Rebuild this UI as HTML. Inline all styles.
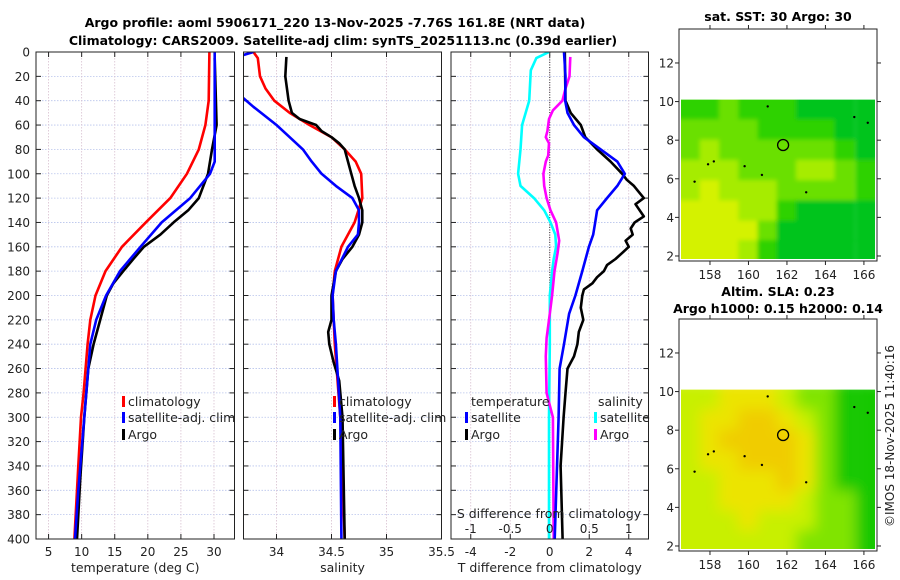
<!DOCTYPE html>
<html><head><meta charset="utf-8"><style>
html,body{margin:0;padding:0;background:#fff;}
svg{display:block;font-family:"DejaVu Sans","Liberation Sans",sans-serif;}
</style></head><body>
<svg id="fig" width="900" height="580" viewBox="0 0 900 580" xmlns="http://www.w3.org/2000/svg">
<defs>
<filter id="blur" x="0" y="0" width="1" height="1"><feGaussianBlur stdDeviation="7"/></filter>
<filter id="blur2" x="0" y="0" width="1" height="1"><feGaussianBlur stdDeviation="2"/></filter>
</defs>
<text x="335" y="27" text-anchor="middle" font-size="12.5" font-weight="bold">Argo profile: aoml 5906171_220 13-Nov-2025 -7.76S 161.8E (NRT data)</text>
<text x="343" y="45" text-anchor="middle" font-size="12.5" font-weight="bold">Climatology: CARS2009. Satellite-adj clim: synTS_20251113.nc (0.39d earlier)</text>
<text x="778" y="21" text-anchor="middle" font-size="12.5" font-weight="bold">sat. SST: 30 Argo: 30</text>
<text x="778" y="296" text-anchor="middle" font-size="12.5" font-weight="bold">Altim. SLA: 0.23</text>
<text x="778" y="313" text-anchor="middle" font-size="12.5" font-weight="bold">Argo h1000: 0.15 h2000: 0.14</text>
<text transform="translate(894,436) rotate(-90)" text-anchor="middle" font-size="12" fill="#222">©IMOS 18-Nov-2025 11:40:16</text>
</svg>
<script>
// ---------- profile data ----------
const depthT = [0,40,60,80,100,120,140,160,180,200,220,240,280,300,340,400];
const tempClim = [29.3,29.2,28.7,27.7,25.9,23.4,19.7,16.1,13.6,12.1,11.3,10.9,10.3,9.9,9.5,8.9];
const depthTsat = [0,90,100,120,140,160,180,200,220,240,280,320,360,400];
const tempSat = [30.1,30.1,29.4,26.4,22.1,18.9,15.8,13.7,12.2,11.3,10.7,10.1,9.5,9.0];
const depthArgo = [5,60,80,100,120,130,140,150,160,170,180,190,200,220,240,260,300,350,400];
const tempArgo = [30.1,30.4,29.7,29.1,27.7,26.1,23.9,21.9,19.4,17.8,16.3,14.8,13.8,12.8,11.8,11.0,10.4,9.8,9.3];

const depthSclim = [0,5,20,30,40,50,60,70,80,90,100,120,140,160,180,200,240,300,400];
const salClim = [33.79,33.83,33.85,33.90,33.98,34.12,34.30,34.50,34.62,34.72,34.77,34.78,34.71,34.59,34.53,34.51,34.53,34.58,34.62];
const depthSsat = [0,3,35,38,45,60,70,80,90,100,110,120,130,140,150,160,180,200,220,240,300,400];
const salSat = [33.79,33.68,33.66,33.70,33.79,34.0,34.12,34.24,34.32,34.41,34.54,34.69,34.75,34.75,34.74,34.65,34.54,34.51,34.52,34.54,34.58,34.59];
const depthSargo = [4,20,40,50,55,60,65,70,75,80,90,100,110,120,130,140,150,160,170,180,190,200,220,230,240,255,270,300,400];
const salArgo = [34.09,34.08,34.11,34.14,34.21,34.36,34.41,34.50,34.57,34.62,34.65,34.68,34.71,34.75,34.78,34.78,34.75,34.69,34.60,34.54,34.52,34.50,34.50,34.47,34.48,34.52,34.57,34.60,34.62];

const depthDS = [0,5,15,40,60,80,100,110,120,130,140,150,160,170,180,200,240,300,400];
const sDiffSat = [-0.01,-0.17,-0.24,-0.26,-0.35,-0.37,-0.40,-0.37,-0.20,-0.07,0.01,0.07,0.08,0.05,0.03,0.0,0.0,-0.01,-0.01];
const depthDSargo = [4,20,30,40,48,55,65,70,75,85,90,100,110,120,130,140,155,165,180,200,220,235,250,280,300,400];
const sDiffArgo = [0.26,0.25,0.20,0.16,0.04,-0.01,-0.03,-0.05,-0.01,-0.02,-0.05,-0.08,-0.07,-0.04,0.01,0.08,0.12,0.10,0.06,0.03,-0.01,-0.04,-0.05,-0.04,0.04,0.05];
const depthDT = [0,20,40,50,60,70,80,90,100,110,120,130,140,150,160,180,200,215,240,260,300,400];
const tDiffSat = [0.72,0.8,0.78,0.9,1.23,1.73,2.58,3.42,3.8,3.42,2.9,2.4,2.3,2.2,1.98,1.65,1.3,0.98,0.72,0.5,0.45,0.25];
const depthDTargo = [0,40,50,60,70,80,90,100,105,110,120,125,135,140,145,150,155,160,165,170,175,180,185,190,195,200,210,220,230,240,250,260,280,300,340,400];
const tDiffArgo = [0.76,0.8,1.06,1.57,1.8,2.4,3.08,3.67,3.9,4.26,4.76,4.34,4.76,4.3,4.1,4.2,3.84,4.0,3.67,3.33,2.9,2.74,2.4,2.16,1.73,1.65,1.57,1.7,1.47,1.4,1.23,0.9,0.8,0.7,0.55,0.65];

const depthTicks = [0,20,40,60,80,100,120,140,160,180,200,220,240,260,280,300,320,340,360,380,400];
const tempTicks = [5,10,15,20,25,30];
const salTicks = [34,34.5,35,35.5];
const tdTicks = [-4,-2,0,2,4];
const sdTicks = [-1,-0.5,0,0.5,1];

// ---------- map data ----------
const mapLon = [157.0,158.0,159.0,160.0,161.0,162.0,163.0,164.0,165.0,166.1];
const mapLat = [9.6,8.55,7.5,6.45,5.4,4.35,3.3,2.3];
const sstGrid = [
 [1,1,2,1,1,1,0,0,0,0],
 [2,2,2,2,1,1,1,1,0,0],
 [2,3,2,2,2,2,2,2,1,0],
 [3,3,3,2,2,2,3,3,2,1],
 [3,4,3,3,3,2,2,2,2,1],
 [4,4,4,3,3,1,0,0,0,0],
 [4,4,4,4,2,0,0,0,0,0],
 [4,4,4,3,1,0,0,0,0,0]];
const slaGrid = [
 [2,2,3,3,3,2,1,1,0,0],
 [2,3,3,4,4,3,2,1,0,0],
 [2,3,4,4,4,4,3,1,0,0],
 [2,3,3,4,4,4,3,1,0,0],
 [2,2,3,3,3,4,3,1,0,0],
 [2,2,3,3,3,3,2,1,1,0],
 [2,2,2,3,2,2,2,1,1,0],
 [2,2,2,2,2,2,1,1,1,0]];
const sstColors = ['#00c41c','#2ed200','#6ae000','#a6ec00','#d4f200'];
const slaColors = ['#14c800','#80e400','#c8f000','#ece400','#f0cc00'];
const lonTicks = [158,160,162,164,166];
const latTicks = [2,4,6,8,10,12];
const floatLon = 161.8, floatLat = 7.75;

// ---------- helpers ----------
const NS = 'http://www.w3.org/2000/svg';
const svg = document.getElementById('fig');
function el(tag, parent){ const e = document.createElementNS(NS, tag); (parent||svg).appendChild(e); return e; }
function set(e, k, v){ e.setAttribute(k, v); return e; }

const Y0 = 52, Y1 = 539;
function yD(d){ return Y0 + (Y1 - Y0) * d / 400; }
function mkX(px0, px1, v0, v1){ return v => px0 + (v - v0) * (px1 - px0) / (v1 - v0); }

const panels = [
 {name:'temperature', x0:36, x1:234.5, x:mkX(36,234.5,3.1,33.1), ticks:tempTicks, label:'temperature (deg C)', yl:true},
 {name:'salinity', x0:243.5, x1:441.5, x:mkX(243.5,441.5,33.7,35.5), ticks:salTicks, label:'salinity'},
 {name:'difference', x0:451, x1:648.5, x:mkX(451,648.5,-5,5), ticks:tdTicks, label:'T difference from climatology'}
];

panels.forEach((p, i) => {
  const g = el('g');
  
  
  const cp = el('clipPath', g); set(cp, 'id', 'clip' + i);
  const cr = el('rect', cp); set(cr,'x',p.x0); set(cr,'y',Y0); set(cr,'width',p.x1-p.x0); set(cr,'height',Y1-Y0);
  depthTicks.forEach(d => {
    const l = el('line', g);
    
    
    set(l,'x1',p.x0); set(l,'x2',p.x1); set(l,'y1',yD(d)); set(l,'y2',yD(d));
    set(l,'stroke','#b8c4ec'); set(l,'stroke-width','0.8'); set(l,'stroke-dasharray','1.5,1.5');
    [p.x0, p.x1].forEach((xx, k) => {
      const t = el('line', g);
      
      
      set(t,'x1',xx); set(t,'x2', k ? xx-5 : xx+5); set(t,'y1',yD(d)); set(t,'y2',yD(d)); set(t,'stroke','#222');
    });
    if (p.yl) {
      const tx = el('text', g);
      
      
      set(tx,'x',30); set(tx,'y',yD(d)+4.5); set(tx,'text-anchor','end'); set(tx,'font-size','12'); set(tx,'fill','#222');
      tx.textContent = d;
    }
  });
  p.ticks.forEach(v => {
    const xx = p.x(v);
    const l = el('line', g);
    
    
    set(l,'x1',xx); set(l,'x2',xx); set(l,'y1',Y0); set(l,'y2',Y1);
    set(l,'stroke','#d8c0d0'); set(l,'stroke-width','0.8'); set(l,'stroke-dasharray','1.5,1.5');
    [Y0, Y1].forEach((yy, k) => {
      const t = el('line', g);
      
      
      set(t,'x1',xx); set(t,'x2',xx); set(t,'y1',yy); set(t,'y2', k ? yy-5 : yy+5); set(t,'stroke','#222');
    });
    const tx = el('text', g);
    
    
    set(tx,'x',xx); set(tx,'y',556); set(tx,'text-anchor','middle'); set(tx,'font-size','12'); set(tx,'fill','#222');
    tx.textContent = v;
  });
  const at = el('text', g);
  
  
  set(at,'x',(p.x0+p.x1)/2); set(at,'y',572); set(at,'text-anchor','middle'); set(at,'font-size','12.5'); set(at,'fill','#222');
  at.textContent = p.label;
  p.g = g;
});

const zl = el('line');


set(zl,'x1',panels[2].x(0)); set(zl,'x2',panels[2].x(0)); set(zl,'y1',Y0); set(zl,'y2',Y1);
set(zl,'stroke','#333'); set(zl,'stroke-dasharray','1,1.5');

function drawLine(pi, xs, ds, color, name, scale){
  const p = panels[pi];
  const pts = xs.map((v, i) => p.x(v * (scale||1)).toFixed(1) + ',' + yD(ds[i]).toFixed(1)).join(' ');
  const pl = el('polyline');
  
  
  set(pl,'points',pts); set(pl,'fill','none'); set(pl,'stroke',color); set(pl,'stroke-width','2.6');
  set(pl,'stroke-linejoin','round'); set(pl,'clip-path','url(#clip' + pi + ')');
}
drawLine(0, tempClim, depthT, '#ff0000', 'temp-climatology-line');
drawLine(0, tempArgo, depthArgo, '#000000', 'temp-argo-line');
drawLine(0, tempSat, depthTsat, '#0000ff', 'temp-satellite-line');
drawLine(1, salClim, depthSclim, '#ff0000', 'sal-climatology-line');
drawLine(1, salArgo, depthSargo, '#000000', 'sal-argo-line');
drawLine(1, salSat, depthSsat, '#0000ff', 'sal-satellite-line');
drawLine(2, sDiffSat, depthDS, '#00ffff', 'sdiff-satellite-line', 4);
drawLine(2, sDiffArgo, depthDSargo, '#ff00ff', 'sdiff-argo-line', 4);
drawLine(2, tDiffArgo, depthDTargo, '#000000', 'tdiff-argo-line');
drawLine(2, tDiffSat, depthDT, '#0000ff', 'tdiff-satellite-line');

panels.forEach(p => {
  const r = el('rect');
  
  
  set(r,'x',p.x0); set(r,'y',Y0); set(r,'width',p.x1-p.x0); set(r,'height',Y1-Y0); set(r,'fill','none'); set(r,'stroke','#222');
});

sdTicks.forEach(v => {
  const tx = el('text');
  
  
  set(tx,'x',panels[2].x(v*4)); set(tx,'y',533); set(tx,'text-anchor','middle'); set(tx,'font-size','12'); set(tx,'fill','#222');
  tx.textContent = v;
});
const sdt = el('text');


set(sdt,'x',549); set(sdt,'y',518); set(sdt,'text-anchor','middle'); set(sdt,'font-size','12.5'); set(sdt,'fill','#222');
sdt.textContent = 'S difference from climatology';

function legend(x, y, color, label, name){
  const b = el('rect');
  
  
  set(b,'x',x); set(b,'y',y-10); set(b,'width',3); set(b,'height',11); set(b,'fill',color);
  const t = el('text');
  
  
  set(t,'x',x+6); set(t,'y',y); set(t,'font-size','12.5'); set(t,'fill','#222');
  t.textContent = label;
}
[[122,'t'],[333,'s']].forEach(([lx,n]) => {
  legend(lx, 406, '#ff0000', 'climatology', n + '-climatology');
  legend(lx, 422, '#0000ff', 'satellite-adj. clim', n + '-satellite');
  legend(lx, 439, '#000000', 'Argo', n + '-argo');
});
const lt1 = el('text');


set(lt1,'x',471); set(lt1,'y',406); set(lt1,'font-size','12.5'); set(lt1,'fill','#222'); lt1.textContent = 'temperature';
const lt2 = el('text');


set(lt2,'x',598); set(lt2,'y',406); set(lt2,'font-size','12.5'); set(lt2,'fill','#222'); lt2.textContent = 'salinity';
legend(465, 422, '#0000ff', 'satellite', 'tdiff-satellite');
legend(465, 439, '#000000', 'Argo', 'tdiff-argo');
legend(594, 422, '#00ffff', 'satellite', 'sdiff-satellite');
legend(594, 439, '#ff00ff', 'Argo', 'sdiff-argo');

function drawMap(top, grid, colors, name, filt){
  const g = el('g');
  
  
  const L0 = 679, L1 = 877, T0 = top, T1 = top + 232;
  const lx = mkX(L0, L1, 156.39, 166.68);
  const ly = v => T1 - (v - 1.74) * (T1 - T0) / (13.76 - 1.74);
  const cid = 'mc' + top;
  const cp = el('clipPath', g); set(cp,'id',cid);
  const cr = el('rect', cp); set(cr,'x',L0+2); set(cr,'y',ly(10.1)); set(cr,'width',L1-L0-4); set(cr,'height',T1-2-ly(10.1));
  const cells = el('g', g); set(cells,'clip-path','url(#' + cid + ')');
  const inner = el('g', cells); set(inner,'filter','url(#' + filt + ')');
  const dLon = 1.06, dLat = 1.06;
  grid.forEach((row, r) => row.forEach((v, c) => {
    const rc = el('rect', inner);
    
    
    const x0 = lx(mapLon[c] - dLon/2 - (c===0?1:0)), x1 = lx(mapLon[c] + dLon/2 + (c===row.length-1?1:0));
    const y0 = ly(mapLat[r] + dLat/2 + (r===0?0.5:0)), y1 = ly(mapLat[r] - dLat/2 - (r===grid.length-1?1:0));
    set(rc,'x',x0.toFixed(1)); set(rc,'y',y0.toFixed(1)); set(rc,'width',(x1-x0+0.5).toFixed(1)); set(rc,'height',(y1-y0+0.5).toFixed(1));
    set(rc,'fill',colors[v]);
  }));
  [[158.2,6.9],[157.9,6.75],[159.8,6.65],[160.7,6.2],[157.2,5.85],[163,5.3],[161,9.75],[165.5,9.2],[166.2,8.9]].forEach(([a,b]) => {
    const d = el('circle', g);
    
    
    set(d,'cx',lx(a)); set(d,'cy',ly(b)); set(d,'r',1.2); set(d,'fill','#000');
  });
  const fc = el('circle', g);
  
  
  set(fc,'cx',lx(floatLon)); set(fc,'cy',ly(floatLat)); set(fc,'r',5.5); set(fc,'fill','none'); set(fc,'stroke','#000'); set(fc,'stroke-width','1.3');
  const fr = el('rect', g);
  
  
  set(fr,'x',L0); set(fr,'y',T0); set(fr,'width',L1-L0); set(fr,'height',T1-T0); set(fr,'fill','none'); set(fr,'stroke','#222');
  lonTicks.forEach(v => {
    [[T0,T0-4],[T1,T1+4]].forEach(([a,b]) => {
      const t = el('line', g);
      
      
      set(t,'x1',lx(v)); set(t,'x2',lx(v)); set(t,'y1',a); set(t,'y2',b); set(t,'stroke','#222');
    });
    const tx = el('text', g);
    
    
    set(tx,'x',lx(v)); set(tx,'y',T1+18); set(tx,'text-anchor','middle'); set(tx,'font-size','12'); set(tx,'fill','#222');
    tx.textContent = v;
  });
  latTicks.forEach(v => {
    [[L0,L0-4],[L1,L1+4]].forEach(([a,b]) => {
      const t = el('line', g);
      
      
      set(t,'x1',a); set(t,'x2',b); set(t,'y1',ly(v)); set(t,'y2',ly(v)); set(t,'stroke','#222');
    });
    const tx = el('text', g);
    
    
    set(tx,'x',674); set(tx,'y',ly(v)+4.5); set(tx,'text-anchor','end'); set(tx,'font-size','12'); set(tx,'fill','#222');
    tx.textContent = v;
  });
}
drawMap(29, sstGrid, sstColors, 'sst-map', 'blur2');
drawMap(319, slaGrid, slaColors, 'sla-map', 'blur');
</script>
</body></html>
